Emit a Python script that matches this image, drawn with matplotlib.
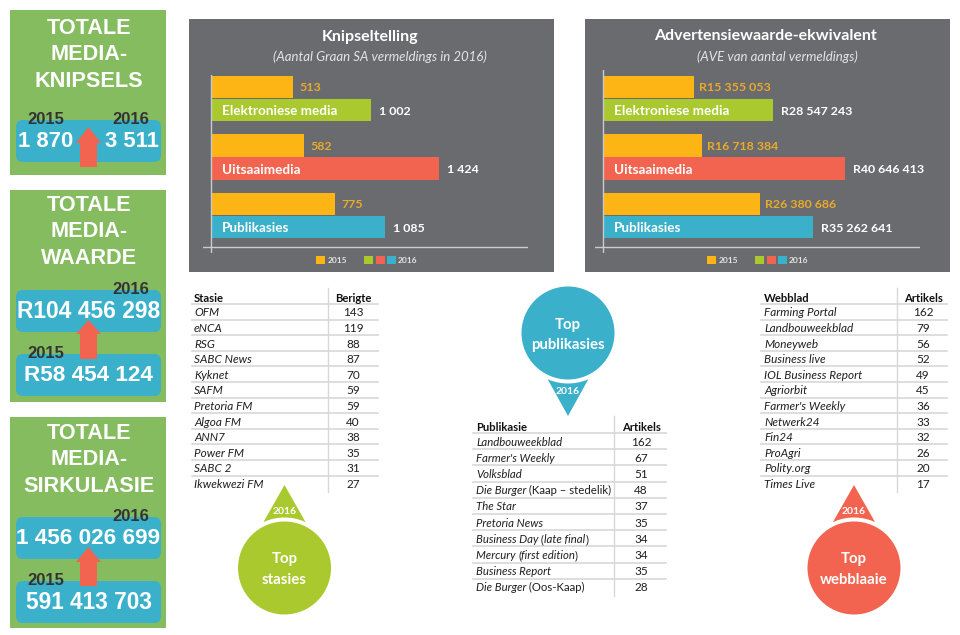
import matplotlib
matplotlib.use("Agg")
import matplotlib.pyplot as plt
from matplotlib.patches import Rectangle, FancyBboxPatch, Polygon, Circle

W, H = 960, 635
GREEN, BLUE, RED, GOLD, LIME, PANEL = "#86BC60", "#3AB0CB", "#F26450", "#FDB515", "#AAC92F", "#696B6E"
SANS = "Lato"
ARIAL = "Liberation Sans"

categories = ["Elektroniese media", "Uitsaaimedia", "Publikasies"]
colors_2016 = [LIME, RED, BLUE]
clips_2015 = [513, 582, 775]
clips_2016 = [1002, 1424, 1085]
clip_labels_2015 = ["513", "582", "775"]
clip_labels_2016 = ["1 002", "1 424", "1 085"]
ave_2015 = [15355053, 16718384, 26380686]
ave_2016 = [28547243, 40646413, 35262641]
ave_labels_2015 = ["R15 355 053", "R16 718 384", "R26 380 686"]
ave_labels_2016 = ["R28 547 243", "R40 646 413", "R35 262 641"]

stasie_names = ["OFM", "eNCA", "RSG", "SABC News", "Kyknet", "SAFM", "Pretoria FM", "Algoa FM", "ANN7", "Power FM", "SABC 2", "Ikwekwezi FM"]
stasie_values = [143, 119, 88, 87, 70, 59, 59, 40, 38, 35, 31, 27]
pub_names = ["Landbouweekblad", "Farmer's Weekly", "Volksblad", "Die Burger| (Kaap – stedelik)", "The Star", "Pretoria News",
             "Business Day| (|late final|)", "Mercury |(|first edition|)", "Business Report", "Die Burger| (Oos-Kaap)"]
pub_values = [162, 67, 51, 48, 37, 35, 34, 34, 35, 28]
web_names = ["Farming Portal", "Landbouweekblad", "Moneyweb", "Business live", "IOL Business Report", "Agriorbit", "Farmer's Weekly",
             "Netwerk24", "Fin24", "ProAgri", "Polity.org", "Times Live"]
web_values = [162, 79, 56, 52, 49, 45, 36, 33, 32, 26, 20, 17]

fig = plt.figure(figsize=(W / 100, H / 100), dpi=100, facecolor="white")
bg = fig.add_axes([0, 0, 1, 1])
bg.set_xlim(0, W)
bg.set_ylim(H, 0)
bg.axis("off")
DY = 1.5


def rect(x0, y0, x1, y1, c, z=1):
    bg.add_patch(Rectangle((x0, y0), x1 - x0, y1 - y0, fc=c, ec="none", zorder=z))


def rbox(x0, y0, x1, y1, z=2):
    r = 7
    bg.add_patch(FancyBboxPatch((x0 + r, y0 + r), x1 - x0 - 2 * r, y1 - y0 - 2 * r,
                                boxstyle=f"round,pad={r},rounding_size={r}", fc=BLUE, ec="none", zorder=z))


def arrow(tip, head, bottom):
    cx = 88.5
    pts = [(cx, tip), (cx + 12.5, head), (cx + 8.5, head), (cx + 8.5, bottom),
           (cx - 8.5, bottom), (cx - 8.5, head), (cx - 12.5, head)]
    bg.add_patch(Polygon(pts, fc=RED, ec="none", zorder=3))


def t(x, y, s, size, c="white", w="normal", st="normal", ha="center", fam=SANS, z=5):
    return bg.text(x, y + DY, s, fontsize=size, color=c, fontweight=w, fontstyle=st, ha=ha, va="center",
                   family=fam, zorder=z)


# ---- left KPI boxes
for y0, y1 in [(10, 175), (190, 402), (417, 628)]:
    rect(10, y0, 166, y1, GREEN)


def heading(ys, lines):
    for y, s in zip(ys, lines):
        t(89, y, s, 15.6, w="bold", fam=ARIAL)


DARK = "#333333"
heading([27, 53, 80], ["TOTALE", "MEDIA-", "KNIPSELS"])
rbox(16, 120, 161, 162)
arrow(127, 143, 167)
t(46, 118, "2015", 12, DARK, "bold", fam=ARIAL)
t(131, 118, "2016", 12, DARK, "bold", fam=ARIAL)
t(46, 140, "1 870", 15.8, w="bold", fam=ARIAL)
t(131.5, 140, "3 511", 15.8, w="bold", fam=ARIAL)

heading([204, 230, 257], ["TOTALE", "MEDIA-", "WAARDE"])
rbox(16, 290, 161, 332)
rbox(16, 354, 161, 396)
arrow(320, 334, 359)
t(131, 288, "2016", 12, DARK, "bold", fam=ARIAL)
t(46, 352, "2015", 12, DARK, "bold", fam=ARIAL)
t(88.5, 310, "R104 456 298", 16.4, w="bold", fam=ARIAL)
t(88, 374, "R58 454 124", 16.2, w="bold", fam=ARIAL)

heading([432, 458, 485], ["TOTALE", "MEDIA-", "SIRKULASIE"])
rbox(16, 517, 161, 559)
rbox(16, 581, 161, 623)
arrow(547, 562, 586)
t(131, 515, "2016", 12, DARK, "bold", fam=ARIAL)
t(46, 579, "2015", 12, DARK, "bold", fam=ARIAL)
t(88, 537, "1 456 026 699", 16.2, w="bold", fam=ARIAL)
t(89, 601, "591 413 703", 16.3, w="bold", fam=ARIAL)


# ---- bar panels
def panel(px0, px1, axis_x, line_x0, line_x1, top, scale, v15, v16, l15, l16, title, tx, sub, sx, off15, off16,
          legend_x):
    rect(px0, 19, px1, 272, PANEL)
    t(tx, 35, title, 11.5, w="bold")
    t(sx, 55, sub, 9.5, "#E4E4E4", st="italic")
    ax0, ax1 = line_x0, line_x1
    y0, y1 = top, 253
    ax = fig.add_axes([ax0 / W, 1 - y1 / H, (ax1 - ax0) / W, (y1 - y0) / H], zorder=3)
    ax.patch.set_alpha(0)
    ax.axis("off")
    ax.set_xlim((ax0 - axis_x) / scale, (ax1 - axis_x) / scale)
    step = 58.5
    ax.set_ylim((y1 - 98.5) / step, (y0 - 98.5) / step)
    idx = list(range(len(categories)))
    off = 0.197
    ax.barh([i - off for i in idx], v15, height=0.39, color=GOLD, zorder=2)
    ax.barh([i + off for i in idx], v16, height=0.39, color=colors_2016, zorder=2)
    ax.axvline(0, color="#C9CBCD", lw=1, zorder=3)
    ax.axhline((247 - 98.5) / step, color="#C9CBCD", lw=1, zorder=1)
    for i in idx:
        ax.annotate(l15[i], (v15[i], i - off), xytext=(off15, -1), textcoords="offset pixels", color="#EBAA2A",
                    fontsize=8.9, fontweight="bold", family=SANS, va="center")
        ax.annotate(l16[i], (v16[i], i + off), xytext=(off16, -1), textcoords="offset pixels", color="white",
                    fontsize=8.9, fontweight="bold", family=SANS, va="center")
        ax.annotate(categories[i], (0, i + off), xytext=(11, -1), textcoords="offset pixels", color="white",
                    fontsize=9.7, fontweight="bold", family=SANS, va="center")
    lx = legend_x
    rect(lx, 256, lx + 9, 264, GOLD, 4)
    t(lx + 12, 259, "2015", 6, "#E4E4E4", "bold", ha="left")
    for k, c in enumerate(colors_2016):
        rect(lx + 48 + 11.5 * k, 256, lx + 57 + 11.5 * k, 264, c, 4)
    t(lx + 82, 259, "2016", 6, "#E4E4E4", "bold", ha="left")


panel(189, 554, 211, 203, 528, 75, 0.16, clips_2015, clips_2016, clip_labels_2015, clip_labels_2016,
      "Knipseltelling", 370, "(Aantal Graan SA vermeldings in 2016)", 380, 6, 8, 316)
panel(585, 950, 603, 595, 920, 70, 5.95e-6, ave_2015, ave_2016, ave_labels_2015, ave_labels_2016,
      "Advertensiewaarde-ekwivalent", 765, "(AVE van aantal vermeldings)", 777, 5, 8, 707)

# ---- tables
fig.canvas.draw()
renderer = fig.canvas.get_renderer()


def rich(x, y, s, size):
    parts = s.split("|")
    for k, part in enumerate(parts):
        italic = k % 2 == 0
        tx = bg.text(x, y + DY, part, fontsize=size, color="#1F1F1F", fontstyle="italic" if italic else "normal",
                     ha="left", va="center", family=SANS, zorder=5)
        x += tx.get_window_extent(renderer).width


def table(lx0, lx1, tx, sep, vx, head_y, first_line, step, sep_top, sep_bot, h1, h2, names, vals, size=8.5):
    t(tx, head_y, h1, 8.1, "#111111", "bold", ha="left")
    t(vx, head_y, h2, 8.1, "#111111", "bold")
    for i, (n, v) in enumerate(zip(names, vals)):
        yl = first_line + step * i
        bg.plot([lx0, lx1], [yl, yl], color="#D8D8D8", lw=1.2, zorder=2)
        rich(tx, yl + step / 2 - 0.5, n, size)
        t(vx, yl + step / 2 - 0.5, str(v), 8.5, "#1F1F1F")
    bg.plot([sep, sep], [sep_top, sep_bot], color="#D8D8D8", lw=1, zorder=2)


table(192, 378, 194, 328, 353, 297, 304, 15.6, 288, 492, "Stasie", "Berigte", stasie_names, stasie_values)
table(473, 666, 476, 614, 641, 426, 433, 16.2, 416, 596, "Publikasie", "Artikels", pub_names, pub_values, size=8.2)
table(761, 947, 764, 897, 923, 297, 304, 15.6, 288, 492, "Webblad", "Artikels", web_names, web_values)


# ---- bubbles
def bubble(cx, cy, c, apex, base, yr_y, l1, l2):
    bg.add_patch(Polygon([(cx, apex), (cx - 21, base), (cx + 21, base)], fc=c, ec="none", zorder=2))
    bg.add_patch(Circle((cx, cy), 50.5, fc="white", ec="none", zorder=3))
    bg.add_patch(Circle((cx, cy), 46.5, fc=c, ec="none", zorder=4))
    t(cx, yr_y, "2016", 7.5, w="bold")
    t(cx, cy - 10, l1, 10.8, w="bold")
    t(cx, cy + 10, l2, 10.8, w="bold")


bubble(284.5, 568, LIME, 485, 522, 510, "Top", "stasies")
bubble(568, 333, BLUE, 416, 378, 390, "Top", "publikasies")
bubble(854, 568, RED, 485, 522, 510, "Top", "webblaaie")

fig.savefig("out.png", dpi=100, facecolor="white")
